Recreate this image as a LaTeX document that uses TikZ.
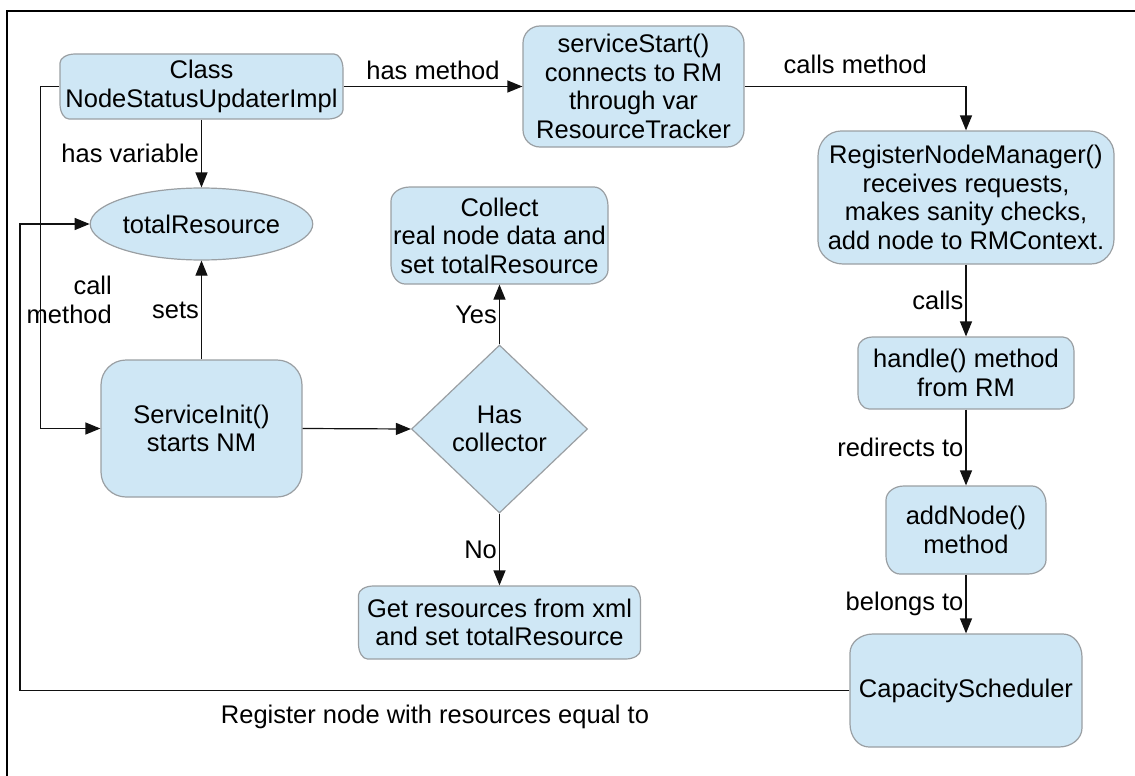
\documentclass[tikz,border=0pt]{standalone}
\usepackage{fontspec}
\setmainfont{Liberation Sans}
\usetikzlibrary{arrows.meta,shapes.geometric}
\definecolor{boxfill}{HTML}{CFE7F5}
\definecolor{boxline}{HTML}{9A9FA3}
\definecolor{inkline}{HTML}{111111}
\makeatletter
% rectangle corners rounded with separate x and y radii
\tikzset{arccorners/.code args={#1 and #2}{\tikz@addoption{\pgfsetcornersarced{\pgfpoint{#1}{#2}}}}}
\makeatother
\begin{document}
\begin{tikzpicture}[x=1pt,y=-1pt,
  font=\fontsize{25.5}{28.5}\selectfont,
  box/.style={draw=boxline, fill=boxfill, line width=1.2pt, align=center, inner sep=0pt},
  flow/.style={draw=inkline, line width=1.2pt, -{Triangle[length=15pt,width=12pt]}},
  lbl/.style={inner sep=2pt, align=center}]

\useasboundingbox (0,0) rectangle (1135,776);

% outer frame (top and left edges only)
\draw[line width=2.8pt] (1140,11) -- (7,11) -- (7,780);

% nodes
\node[box, arccorners=15pt and 9pt, minimum width=283pt, minimum height=65pt]
  (cls) at (201.5,86.5) {Class\\NodeStatusUpdaterImpl};
\node[box, arccorners=17pt and 17pt, minimum width=221pt, minimum height=121pt]
  (svc) at (633.5,86.5) {serviceStart()\\connects to RM\\through var\\ResourceTracker};
\node[box, arccorners=23pt and 25pt, minimum width=296pt, minimum height=133pt]
  (reg) at (966,197.5) {RegisterNodeManager()\\receives requests,\\makes sanity checks,\\add node to RMContext.};
\node[box, ellipse, minimum width=201pt, minimum height=72pt]
  (tot) at (201.5,224) {totalResource};
\node[box, arccorners=19pt and 14pt, minimum width=217pt, minimum height=97pt]
  (col) at (499.5,235.5) {Collect\\real node data and\\set totalResource};
\node[box, arccorners=25pt and 25pt, minimum width=201pt, minimum height=137pt]
  (init) at (201.5,428.5) {ServiceInit()\\starts NM};
\node[box, diamond, minimum width=176pt, minimum height=168pt]
  (dia) at (499.5,429) {Has\\collector};
\node[box, arccorners=15pt and 9pt, minimum width=282pt, minimum height=73pt]
  (get) at (499.5,622.5) {Get resources from xml\\and set totalResource};
\node[box, arccorners=15pt and 11pt, minimum width=216pt, minimum height=72pt]
  (hdl) at (966,373) {handle() method\\from RM};
\node[box, arccorners=18pt and 14pt, minimum width=160pt, minimum height=88pt]
  (add) at (966,530) {addNode()\\method};
\node[box, arccorners=23pt and 19pt, minimum width=232pt, minimum height=113pt]
  (cap) at (966,690.5) {CapacityScheduler};

% connectors
\draw[flow] (cls.east) -- node[midway, lbl, above=3.7pt] (lhm) {has method} (svc.west);
\draw[flow] (svc.east) -| node[pos=0.25, lbl, above=10.5pt] (lcm) {calls method} (reg.north);
\draw[flow] (cls.south) -- node[midway, lbl, left] (lhv) {has variable} (tot.north);
\draw[flow] (init.north) -- node[midway, lbl, left] (lsets) {sets} (tot.south);

\coordinate (callbend) at (40.7,86.5);
\draw[flow] (cls.west) -- (callbend) |- (init.west);
\node[lbl, anchor=east, align=right] (lcall) at (114,300) {call\\method};

\coordinate (regbend) at (20,690.5);
\draw[flow] (cap.west) -- (regbend) |- (tot.west);
\node[lbl] (lreg) at (435,716.5) {Register node with resources equal to};

\draw[flow] (init.east) -- (dia.west);
\draw[flow] (dia.north) -- node[midway, lbl, left] (lyes) {Yes} (col.south);
\draw[flow] (dia.south) -- node[midway, lbl, left] (lno) {No} (get.north);

\draw[flow] (reg.south) -- node[midway, lbl, left] (lcalls) {calls} (hdl.north);
\draw[flow] (hdl.south) -- node[midway, lbl, left] (lred) {redirects to} (add.north);
\draw[flow] (add.south) -- node[midway, lbl, left] (lbel) {belongs to} (cap.north);
\end{tikzpicture}
\end{document}
